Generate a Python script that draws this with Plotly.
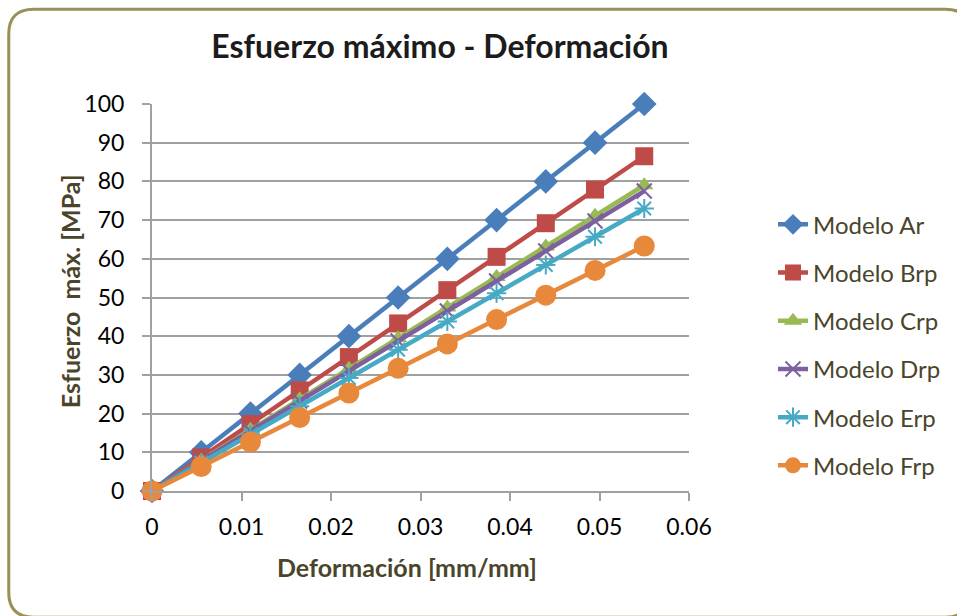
import plotly.graph_objects as go

# ---- data ----
deformacion = [0, 0.0055, 0.011, 0.0165, 0.022, 0.0275, 0.033, 0.0385, 0.044, 0.0495, 0.055]
modelo_ar = [0, 10, 20, 30, 40, 50, 60, 70, 80, 90, 100]
modelo_brp = [0, 8.65, 17.3, 26.0, 34.6, 43.3, 51.9, 60.5, 69.2, 77.9, 86.5]
modelo_crp = [0, 7.9, 15.8, 23.7, 31.6, 39.5, 47.4, 55.3, 63.2, 71.1, 79.0]
modelo_drp = [0, 7.75, 15.5, 23.25, 31.0, 38.75, 46.5, 54.25, 62.0, 69.75, 77.5]
modelo_erp = [0, 7.3, 14.6, 21.9, 29.2, 36.5, 43.8, 51.1, 58.4, 65.7, 73.0]
modelo_frp = [0, 6.33, 12.66, 19.0, 25.3, 31.7, 38.0, 44.3, 50.6, 57.0, 63.3]

series_names = ["Modelo Ar", "Modelo Brp", "Modelo Crp", "Modelo Drp", "Modelo Erp", "Modelo Frp"]
x_ticks = [0, 0.01, 0.02, 0.03, 0.04, 0.05, 0.06]
x_tick_labels = ["0", "0.01", "0.02", "0.03", "0.04", "0.05", "0.06"]
y_ticks = [0, 10, 20, 30, 40, 50, 60, 70, 80, 90, 100]

# ---- styling ----
W, H = 957, 616
L, R, T, B = 152, 690, 103.5, 491.5
FONT = "Lato, Carlito, Calibri, sans-serif"
TXT = "#4A452A"

colors = ["#4A7EBB", "#BE4B48", "#98B954", "#7D60A0", "#46AAC5", "#E8883A"]
symbols = ["diamond", "square", "triangle-up", "x-thin-open", "asterisk-open", "circle"]
msizes = [19, 18, 16, 15, 16, 21]
values = [modelo_ar, modelo_brp, modelo_crp, modelo_drp, modelo_erp, modelo_frp]

fig = go.Figure()
for i, (name, vals) in enumerate(zip(series_names, values)):
    thin = symbols[i].endswith("open")
    fig.add_trace(go.Scatter(
        x=deformacion, y=vals, name=name, mode="lines+markers",
        legendgroup=name,
        line=dict(color=colors[i], width=4.5),
        marker=dict(symbol=symbols[i], size=msizes[i], color=colors[i],
                    line=dict(color=colors[i], width=2 if thin else 0)),
        cliponaxis=False,
    ))

def px(x):
    return (x - L) / (R - L)

def py(y):
    return (B - y) / (B - T)

# rounded frame
x0, y0, x1, y1, r = 8.5, 8.5, 972, 618, 25
path = (f"M {px(x0+r)},{py(y0)} L {px(x1-r)},{py(y0)} Q {px(x1)},{py(y0)} {px(x1)},{py(y0+r)} "
        f"L {px(x1)},{py(y1-r)} Q {px(x1)},{py(y1)} {px(x1-r)},{py(y1)} "
        f"L {px(x0+r)},{py(y1)} Q {px(x0)},{py(y1)} {px(x0)},{py(y1-r)} "
        f"L {px(x0)},{py(y0+r)} Q {px(x0)},{py(y0)} {px(x0+r)},{py(y0)} Z")

fig.update_layout(
    width=W, height=H,
    margin=dict(l=L, r=W - R, t=T, b=H - B),
    paper_bgcolor="white", plot_bgcolor="white",
    font=dict(family=FONT, color="black"),
    title=dict(text="<b>Esfuerzo máximo - Deformación</b>",
               x=440 / W, xref="container", xanchor="center",
               y=1 - 47 / H, yref="container", yanchor="middle",
               font=dict(size=32, color="#1C1C1C", family=FONT)),
    xaxis=dict(range=[0, 0.06], tickvals=x_ticks, ticktext=x_tick_labels,
               showgrid=False, zeroline=False, showline=True, linecolor="#A0A0A0", linewidth=2,
               ticks="outside", ticklen=8, tickcolor="#A0A0A0", tickwidth=2,
               tickfont=dict(size=23, color="black"), ticklabelstandoff=6),
    yaxis=dict(range=[0, 100], tickvals=y_ticks,
               showgrid=True, gridcolor="#A0A0A0", gridwidth=2, zeroline=False,
               showline=True, linecolor="#A0A0A0", linewidth=2,
               ticks="outside", ticklen=8, tickcolor="#A0A0A0", tickwidth=2,
               tickfont=dict(size=23, color="black"), ticklabelstandoff=13),
    legend=dict(x=px(773), y=py(202), xanchor="left", yanchor="top",
                font=dict(size=24, color=TXT, family=FONT),
                tracegroupgap=14, bgcolor="rgba(0,0,0,0)"),
    shapes=[dict(type="path", xref="paper", yref="paper", path=path,
                 line=dict(color="#9A8F55", width=3), fillcolor="rgba(0,0,0,0)", layer="below")],
    annotations=[
        dict(text="<b>Deformación [mm/mm]</b>", xref="paper", yref="paper",
             x=px(407), y=py(568), xanchor="center", yanchor="middle", showarrow=False,
             font=dict(size=25, color=TXT, family=FONT)),
        dict(text="<b>Esfuerzo  máx. [MPa]</b>", xref="paper", yref="paper",
             x=px(70), y=py(291), xanchor="center", yanchor="middle", showarrow=False,
             textangle=-90, font=dict(size=25, color=TXT, family=FONT)),
    ],
)

fig.write_html("out.html", config={"displayModeBar": False},
               post_script="document.body.style.margin='0';document.body.style.overflow='hidden';")
